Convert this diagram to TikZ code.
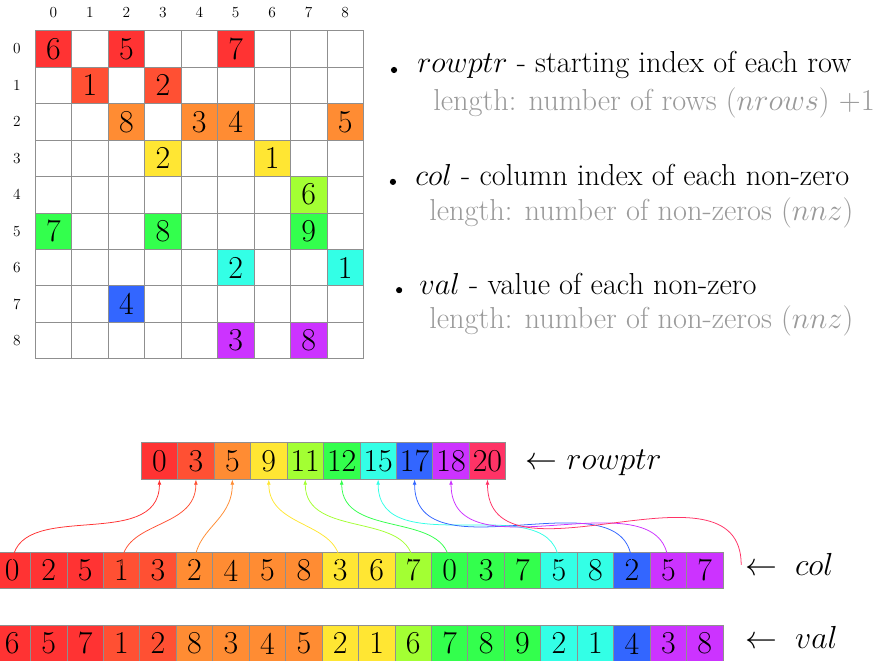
\documentclass[tikz,border=0pt]{standalone}
\usepackage{fix-cm}
\usetikzlibrary{arrows.meta}

\definecolor{row0}{HTML}{FF3333}
\definecolor{row1}{HTML}{FF5033}
\definecolor{row2}{HTML}{FF8C33}
\definecolor{row3}{HTML}{FFE633}
\definecolor{row4}{HTML}{A3FF33}
\definecolor{row5}{HTML}{33FF4D}
\definecolor{row6}{HTML}{33FFE6}
\definecolor{row7}{HTML}{3366FF}
\definecolor{row8}{HTML}{CC33FF}
\definecolor{row9}{HTML}{FF3366}
\definecolor{edgegray}{HTML}{8F8F8F}
\definecolor{notegray}{HTML}{9A9A9A}

\tikzset{
  cell/.style={draw=edgegray, line width=0.6pt, minimum size=1cm, inner sep=0pt, font=\Huge},
  idx/.style={font=\large, inner sep=0pt},
  desc/.style={anchor=base west, inner sep=0pt, font=\fontsize{23.7}{28}\selectfont},
  note/.style={desc, text=notegray},
  tag/.style={anchor=base west, inner sep=0pt, font=\Huge},
  link/.style={line width=0.6pt, {Latex[length=4pt,width=3pt]}-, shorten >=0.14cm}
}

\begin{document}
\begin{tikzpicture}
\useasboundingbox (0,0) rectangle (24.06,-18.13);

% the sparse matrix
\foreach \r in {0,...,8}
  \foreach \c in {0,...,8}
    \node[cell] (m\r\c) at (1.468+\c,-1.342-\r) {};
\foreach \r/\c/\v in {0/0/6,0/2/5,0/5/7,1/1/1,1/3/2,2/2/8,2/4/3,2/5/4,2/8/5,3/3/2,3/6/1,4/7/6,5/0/7,5/3/8,5/7/9,6/5/2,6/8/1,7/2/4,8/5/3,8/7/8}
  \node[cell,fill=row\r] at (m\r\c) {\v};
\foreach \i in {0,...,8} {
  \node[idx] (ci\i) at (1.468+\i,-0.35) {\i};
  \node[idx] (ri\i) at (0.46,-1.342-\i) {\i};
}

% description
\fill (10.81,-1.92) circle (0.085);
\node[desc] (d1) at (11.44,-2.0) {$rowptr$ - starting index of each row};
\node[note] (n1) at (11.88,-3.04) {length: number of rows ($nrows$) +1};
\fill (10.78,-4.99) circle (0.085);
\node[desc] (d2) at (11.39,-5.08) {$col$ - column index of each non-zero};
\node[note] (n2) at (11.77,-6.04) {length: number of non-zeros ($nnz$)};
\fill (10.95,-7.96) circle (0.085);
\node[desc] (d3) at (11.50,-8.09) {$val$ - value of each non-zero};
\node[note] (n3) at (11.77,-9.0) {length: number of non-zeros ($nnz$)};

% the three arrays
\foreach \v [count=\i from 0] in {0,3,5,9,11,12,15,17,18,20}
  \node[cell,fill=row\i] (r\i) at (4.374+\i,-12.645) {\v};
\foreach \v/\k [count=\i from 0] in {0/0,2/0,5/0,1/1,3/1,2/2,4/2,5/2,8/2,3/3,6/3,7/4,0/5,3/5,7/5,5/6,8/6,2/7,5/8,7/8}
  \node[cell,fill=row\k] (c\i) at (0.335+\i,-15.65) {\v};
\coordinate (cend) at (20.335,-15.5);
\foreach \v/\k [count=\i from 0] in {6/0,5/0,7/0,1/1,2/1,8/2,3/2,4/2,5/2,2/3,1/3,6/4,7/5,8/5,9/5,2/6,1/6,4/7,3/8,8/8}
  \node[cell,fill=row\k] (v\i) at (0.335+\i,-17.65) {\v};

\node[tag] (trow) at (14.40,-12.87) {$\leftarrow$ $rowptr$};
\node[tag] (tcol) at (20.45,-15.78) {$\leftarrow$\hspace{0.55em}$col$};
\node[tag] (tval) at (20.45,-17.78) {$\leftarrow$\hspace{0.55em}$val$};

% row pointers into col
\foreach \i/\j in {0/0,1/3,2/5,3/9,4/11,5/12,6/15,7/17,8/18}
  \draw[link,row\i] (r\i.south) to[out=-90,in=90,looseness=1.1] (c\j.center);
\draw[link,row9,shorten >=0pt] (r9.south) to[out=-90,in=90,looseness=1.1] (cend);
\end{tikzpicture}
\end{document}
